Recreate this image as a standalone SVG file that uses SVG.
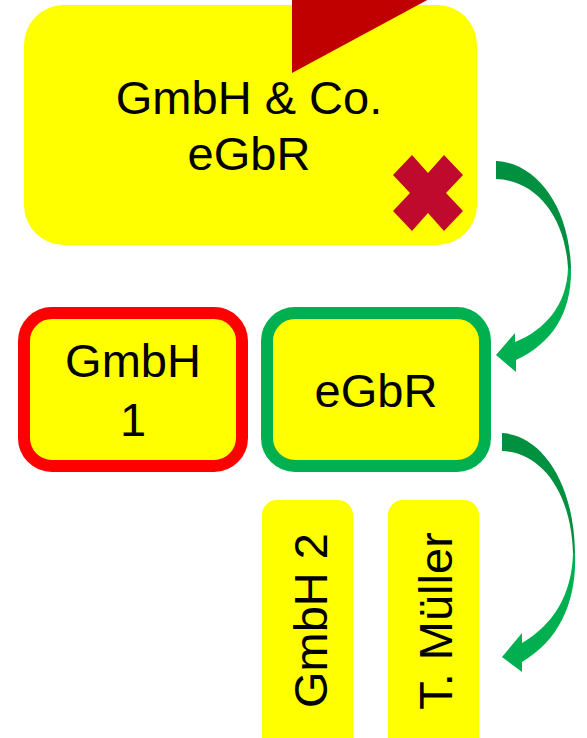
<svg xmlns="http://www.w3.org/2000/svg" width="587" height="738" viewBox="0 0 587 738">
  <style>
    .lbl { font-family: "Liberation Sans", Arial, sans-serif; font-size: 47px; fill: #000; text-anchor: middle; }
    .fill { fill: #FFFF00; }
    .dark { fill: #00903F; }
    .light { fill: #00B050; }
  </style>
  <rect width="587" height="738" fill="#FFFFFF"/>
  <g id="node-top">
    <rect class="fill" x="24" y="5" width="453" height="240" rx="40" ry="40"/>
    <polygon points="292,-2 431,-2 292,73" fill="#C00000"/>
    <text class="lbl" x="249" y="114">GmbH &amp; Co.</text>
    <text class="lbl" x="249" y="170">eGbR</text>
    <polygon points="393,175 412,155 428,173 444,155 463,175 446,193 463,211 444,231 428,213 412,231 393,211 410,193" fill="#C00A2D"/>
  </g>
  <g id="node-gmbh1">
    <rect class="fill" x="24" y="313" width="218" height="153" rx="28" ry="28" stroke="#FF0000" stroke-width="12"/>
    <text class="lbl" x="133" y="377">GmbH</text>
    <text class="lbl" x="133" y="436">1</text>
  </g>
  <g id="node-egbr">
    <rect class="fill" x="267" y="313" width="218" height="153" rx="28" ry="28" stroke="#00B050" stroke-width="12"/>
    <text class="lbl" x="376" y="407">eGbR</text>
  </g>
  <g id="node-gmbh2">
    <rect class="fill" x="262" y="500" width="91" height="260" rx="15" ry="15"/>
    <text class="lbl" transform="translate(327,620.5) rotate(-90)">GmbH 2</text>
  </g>
  <g id="node-mueller">
    <rect class="fill" x="388" y="500" width="91" height="260" rx="15" ry="15"/>
    <text class="lbl" transform="translate(452,621) rotate(-90)">T. Müller</text>
  </g>
  <g id="connectors">
    <path class="dark" d="M496,161 C536,163 569,205 571,268 L568,268 C565,215 535,180 496,179 Z"/>
    <path class="light" d="M571,268 C572,312 553,343 516,360 L516,372 L496,355 L515,333 L515,342 C545,330 567,305 568,268 Z"/>
    <path class="dark" d="M502,433 C540,435 574,480 575,553 L573,553 C571,490 540,452 502,451 Z"/>
    <path class="light" d="M575,553 C577,600 560,640 522,662 L522,672 L502,657 L522,633 L522,643 C553,625 572,595 573,553 Z"/>
  </g>
</svg>
